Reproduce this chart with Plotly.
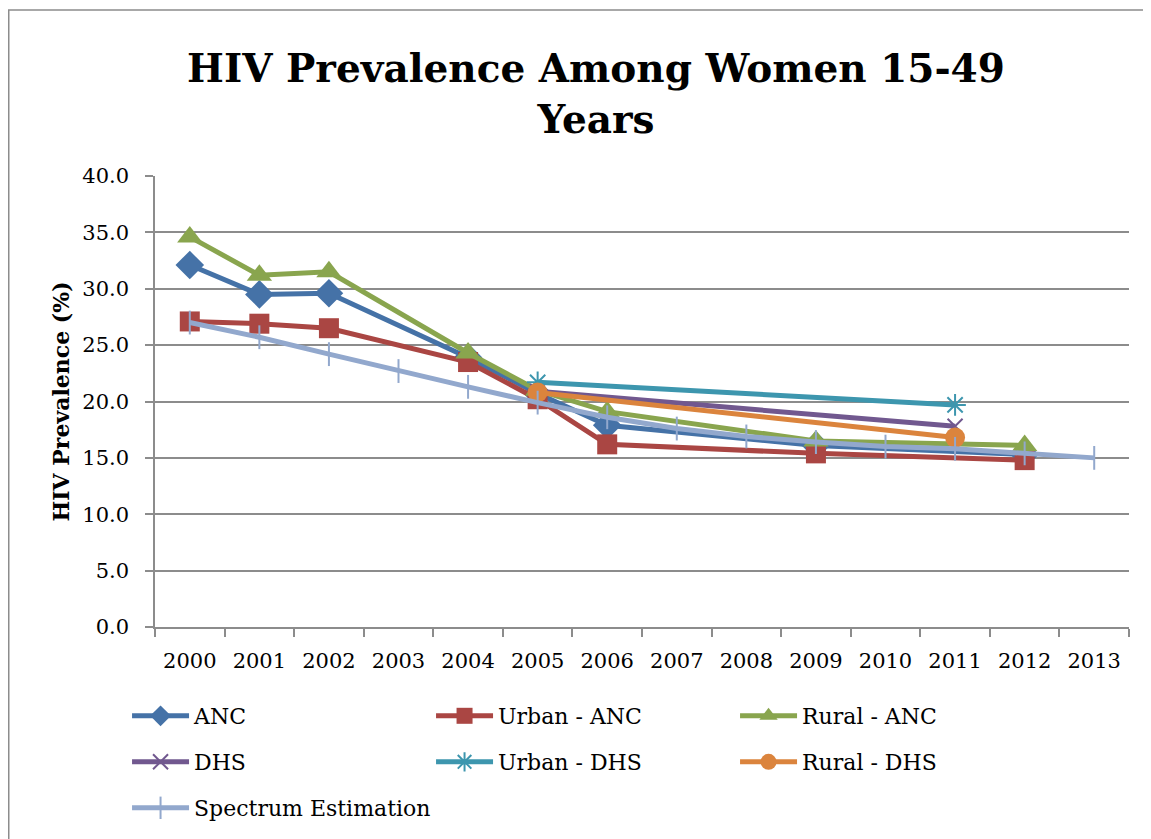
import plotly.graph_objects as go

years = [str(y) for y in range(2000, 2014)]

anc_years = ["2000", "2001", "2002", "2004", "2005", "2006", "2009", "2012"]
anc = [32.1, 29.5, 29.6, 23.9, 20.7, 17.9, 16.1, 15.3]
urban_anc = [27.1, 26.9, 26.5, 23.5, 20.2, 16.2, 15.4, 14.8]
rural_anc = [34.6, 31.2, 31.5, 24.3, 21.0, 19.1, 16.5, 16.1]

dhs_years = ["2005", "2011"]
dhs = [20.9, 17.8]
urban_dhs = [21.7, 19.7]
rural_dhs = [20.8, 16.8]

spectrum = [27.0, 25.7, 24.2, 22.7, 21.3, 19.9, 18.6, 17.6, 16.9, 16.4, 16.0, 15.8, 15.4, 15.0]

y_ticks = [0, 5, 10, 15, 20, 25, 30, 35, 40]

FONT = "DejaVu Serif"
GRID = "#8c8c8c"

fig = go.Figure()

def add(name, x, y, color, symbol, size, legend, open_marker=False):
    marker = dict(symbol=symbol, size=size, color=color)
    if open_marker:
        marker["line"] = dict(color=color, width=2)
    fig.add_trace(go.Scatter(
        x=x, y=y, name=name, mode="lines+markers",
        line=dict(color=color, width=5),
        marker=marker, legend=legend,
    ))

add("ANC", anc_years, anc, "#4572A7", "diamond", 22, "legend")
add("Urban - ANC", anc_years, urban_anc, "#AA4643", "square", 20, "legend")
add("Rural - ANC", anc_years, rural_anc, "#89A54E", "triangle-up", 22, "legend")
add("DHS", dhs_years, dhs, "#71588F", "x-thin-open", 15, "legend2", True)
add("Urban - DHS", dhs_years, urban_dhs, "#3D96AE", "asterisk-open", 18, "legend2", True)
add("Rural - DHS", dhs_years, rural_dhs, "#DB843D", "circle", 20, "legend2")
add("Spectrum Estimation", years, spectrum, "#92A8CD", "line-ns-open", 17, "legend3", True)

legend_common = dict(
    orientation="h", xanchor="left", yanchor="middle", x=-0.0287,
    entrywidth=232, entrywidthmode="pixels", itemwidth=57,
    font=dict(family=FONT, size=22, color="black"),
    bgcolor="rgba(0,0,0,0)", itemclick=False, itemdoubleclick=False,
)

fig.update_layout(
    width=1151, height=839,
    margin=dict(l=147, r=30, t=168, b=220),
    paper_bgcolor="white", plot_bgcolor="white",
    font=dict(family=FONT, size=21, color="black"),
    title=dict(
        text="<b>HIV Prevalence Among Women 15-49<br>Years</b>",
        x=588 / 1151, xanchor="center", xref="container",
        y=1 - 74 / 839, yanchor="top", yref="container",
        font=dict(family=FONT, size=39, color="black"),
    ),
    xaxis=dict(
        type="category", categoryorder="array", categoryarray=years,
        range=[-0.5, 13.5], tickson="boundaries",
        ticks="outside", ticklen=8, tickcolor=GRID, tickwidth=1.5,
        showline=True, linecolor=GRID, linewidth=1.5,
        showgrid=False, ticklabelstandoff=14,
        tickfont=dict(family=FONT, size=21),
    ),
    yaxis=dict(
        range=[0, 40], tickvals=y_ticks, tickformat=".1f",
        ticks="outside", ticklen=8, tickcolor=GRID, tickwidth=1.5,
        showline=True, linecolor=GRID, linewidth=1.5,
        showgrid=True, gridcolor=GRID, gridwidth=1.5,
        zeroline=False, ticklabelstandoff=12,
        tickfont=dict(family=FONT, size=21),
        title=dict(text="<b>HIV Prevalence (%)</b>", standoff=7,
                   font=dict(family=FONT, size=22)),
    ),
    legend=dict(legend_common, y=(627 - 716) / 451),
    legend2=dict(legend_common, y=(627 - 762) / 451),
    legend3=dict(legend_common, y=(627 - 808) / 451),
    showlegend=True,
    shapes=[dict(
        type="rect", xref="paper", yref="paper",
        x0=(8.75 - 155) / 974, x1=1.05, y0=-0.7, y1=(627 - 10) / 451,
        line=dict(color=GRID, width=1.5), fillcolor="rgba(0,0,0,0)", layer="below",
    )],
)

fig.write_html("out.html")
